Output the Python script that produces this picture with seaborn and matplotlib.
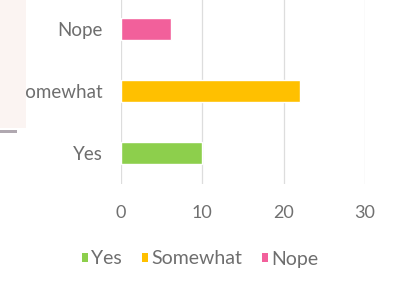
import matplotlib
matplotlib.use("Agg")
import matplotlib.pyplot as plt
import seaborn as sns
import pandas as pd
from matplotlib.patches import Patch, Rectangle

categories = ["Nope", "Somewhat", "Yes"]
values = [6.2, 22.0, 10.0]
colors = ["#F2609B", "#FFC000", "#8DCF4C"]
legend_order = ["Yes", "Somewhat", "Nope"]
xticks = [0, 10, 20, 30]

sns.set_theme(style="white")
plt.rcParams["font.family"] = ["Lato", "DejaVu Sans"]

df = pd.DataFrame({"category": categories, "value": values})
pal = dict(zip(categories, colors))

fig = plt.figure(figsize=(4.0, 2.84), dpi=100)
fig.patch.set_facecolor("white")
ax = fig.add_axes([121/400, (284-184)/284, (365-121)/400, 186/284])

sns.barplot(data=df, y="category", x="value", hue="category", palette=pal,
            order=categories, width=0.37, ax=ax, legend=False, saturation=1)

ax.set_xlim(0, 30)
ax.set_xticks(xticks)
ax.set_xlabel("")
ax.set_ylabel("")
for s in ax.spines.values():
    s.set_visible(False)
ax.grid(axis="x", color="#DDDDDD", linewidth=0.9)
ax.set_axisbelow(True)
ax.tick_params(axis="y", length=0, labelsize=13.5, colors="#6E6E6E", pad=13)
ax.tick_params(axis="x", length=0, labelsize=13, colors="#707070", pad=15)

handles = [Patch(facecolor=pal[c], edgecolor="none", label=c) for c in legend_order]
fig.legend(handles=handles, loc="center", bbox_to_anchor=(0.5, (284-259)/284), ncol=3,
           frameon=False, fontsize=14, labelcolor="#6E6E6E", handlelength=0.35,
           handleheight=0.35, handletextpad=0.15, columnspacing=1.0)

# photo edge artifacts on the left (overlay covering the first letter)
fig.add_artist(Rectangle((0, (284-128)/284), 25.5/400, 128/284, transform=fig.transFigure,
                         facecolor="#FBF4F2", edgecolor="none", zorder=5))
fig.add_artist(Rectangle((0, (284-133)/284), 17/400, 3/284, transform=fig.transFigure,
                         facecolor="#B0A8B0", edgecolor="none", zorder=6))

fig.savefig("out.png", dpi=100, facecolor="white")
